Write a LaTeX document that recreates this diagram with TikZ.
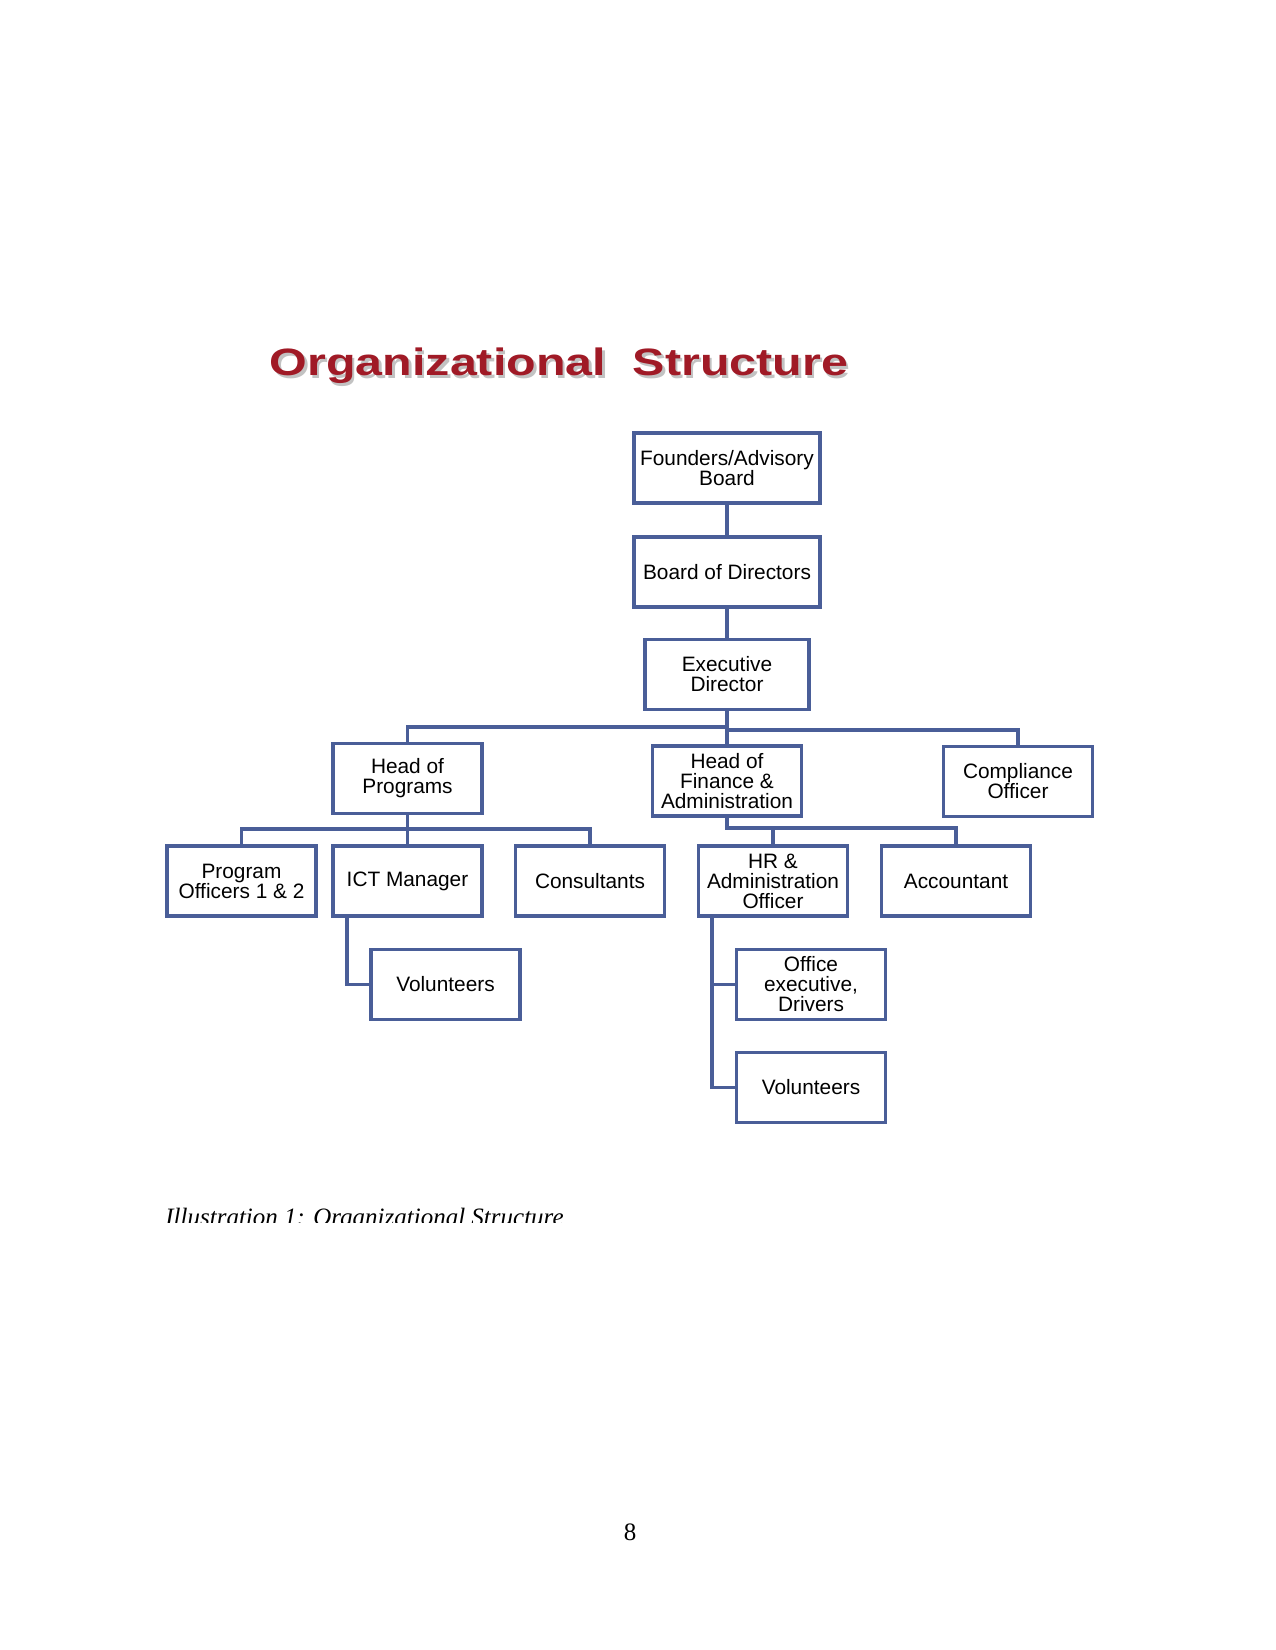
\documentclass[tikz,border=0pt]{standalone}
\usepackage{fontspec}
\setmainfont{Liberation Serif}
\newfontfamily\boxfont{Liberation Sans}
\usetikzlibrary{positioning}

\definecolor{boxblue}{RGB}{74,94,152}
\definecolor{titlered}{RGB}{160,26,38}

\begin{document}
\begin{tikzpicture}[
        x = 0.48pt, y = -0.48pt,
        every node/.style = {inner sep = 0pt, align = center},
        post/.style = {draw = boxblue, line width = 1.8pt, fill = white,
            minimum width = 71.5pt, minimum height = 33.6pt,
            font = \boxfont\fontsize{10}{9.6}\selectfont},
        execpost/.style = {post, minimum width = 78.7pt},
        toppost/.style = {post, minimum width = 89.3pt},
        heading/.style = {anchor = base, font = \boxfont\bfseries\fontsize{18.3}{20}\selectfont},
        link/.style = {draw = boxblue, line width = 1.8pt}
    ]
      \useasboundingbox (0,0) rectangle (1275,1650);

      \node[heading, text = black!40, opacity = 0.6] (shadow) at (561.5,378.5)
            {\scalebox{1.27}[1]{Organizational\ \ Structure}};
      \node[heading, text = titlered] (title) at (559,376)
            {\scalebox{1.27}[1]{Organizational\ \ Structure}};

      \node[toppost] (founders) at (727,468) {Founders/Advisory\\Board};
      \node[toppost] (board) at (727,572) {Board of Directors};
      \node[execpost] (exec) at (727,674.5) {Executive\\Director};

      \node[post] (hprog) at (407.5,778.5) {Head of\\Programs};
      \node[post] (hfin) at (727,781) {Head of\\Finance \&\\Administration};
      \node[post] (comp) at (1018,781.5) {Compliance\\Officer};

      \node[post] (po) at (241.5,881) {Program\\Officers 1 \& 2};
      \node[post] (ict) at (407.5,881) {ICT Manager};
      \node[post] (cons) at (590,881) {Consultants};
      \node[post] (hr) at (773,881) {HR \&\\Administration\\Officer};
      \node[post] (acc) at (956,881) {Accountant};

      \node[post] (vol1) at (445.5,984.5) {Volunteers};
      \node[post] (office) at (811,984.5) {Office\\executive,\\Drivers};
      \node[post] (vol2) at (811,1087.5) {Volunteers};

      \path[link]
        (founders) -- (board)
        (board) -- (exec)
        (exec.south) -- (hfin.north)
        (hprog.north) -- ++(0,-15) -| (exec.south)
        (comp.north) -- ++(0,-15) -| (exec.south)
        (hprog.south) -- (ict.north)
        (po.north) -- ++(0,-15) -| (hprog.south)
        (cons.north) -- ++(0,-15) -| (hprog.south)
        ([xshift = 7.7pt]ict.south west) |- (vol1.west)
        (hr.north) -- ++(0,-16) -| (hfin.south)
        (acc.north) -- ++(0,-16) -| (hfin.south)
        ([xshift = 7.2pt]hr.south west) |- (office.west)
        ([xshift = 7.2pt]hr.south west) |- (vol2.west);

      \begin{scope}
        \clip (0,1150) rectangle (1275,1222);
        \node[anchor = base west, font = \itshape\fontsize{12}{14}\selectfont] (caption)
            at (165,1225) {Illustration 1: Organizational Structure};
      \end{scope}

      \node[anchor = base, font = \fontsize{12}{14}\selectfont] (page) at (630,1540) {8};
    \end{tikzpicture}
\end{document}
